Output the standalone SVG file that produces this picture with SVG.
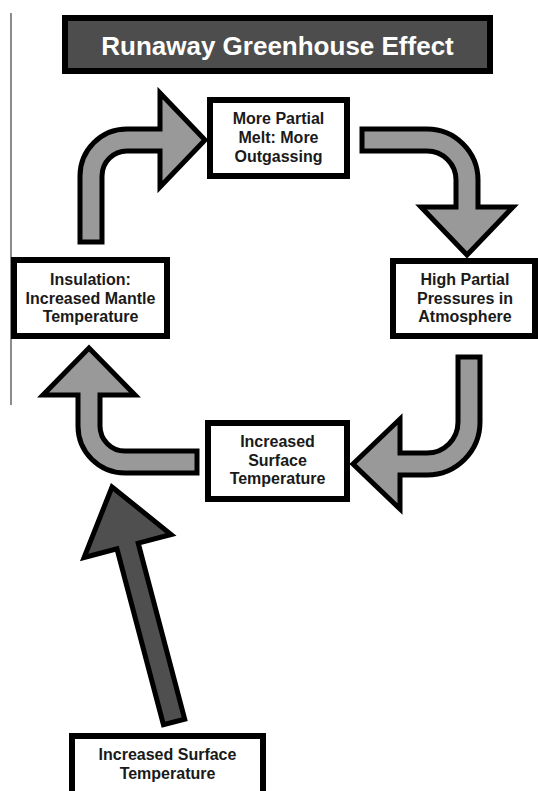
<svg xmlns="http://www.w3.org/2000/svg" width="538" height="791" viewBox="0 0 538 791">
  <style>
    .box { fill: #ffffff; stroke: #000000; stroke-width: 6; }
    .lbl { font-family: "Liberation Sans", Arial, sans-serif; font-weight: bold; font-size: 16px; fill: #1a1a1a; text-anchor: middle; }
    .title { font-family: "Liberation Sans", Arial, sans-serif; font-weight: bold; font-size: 26px; fill: #ffffff; text-anchor: middle; }
    .arr { fill: #999999; stroke: #000000; stroke-width: 5; stroke-linejoin: miter; }
    .arrd { fill: #4f4f4f; stroke: #000000; stroke-width: 5; stroke-linejoin: miter; }
  </style>
  <rect width="538" height="791" fill="#ffffff"/>
  <line x1="11" y1="13" x2="11" y2="405" stroke="#666666" stroke-width="1.5"/>

  <g id="title">
    <rect x="65" y="18" width="425" height="53" fill="#4d4d4d" stroke="#000000" stroke-width="6"/>
    <text class="title" x="277.5" y="55">Runaway Greenhouse Effect</text>
  </g>

  <g id="connectors">
    <path class="arr" d="M80,242 L80,176 A47,47 0 0 1 127,129 L160,129 L160,93 L205,140 L160,187 L160,151 L127,151 A25,25 0 0 0 102,176 L102,242 Z"/>
    <path class="arr" d="M362,129 L427,129 A51,51 0 0 1 478,180 L478,207 L513,207 L467,255 L421,207 L456,207 L456,180 A29,29 0 0 0 427,151 L362,151 Z"/>
    <path class="arr" d="M458,357 L458,422 A31,31 0 0 1 427,453 L400,453 L400,419 L353,464 L400,509 L400,475 L427,475 A53,53 0 0 0 480,422 L480,357 Z"/>
    <path class="arr" d="M197,451 L125,451 A25,25 0 0 1 100,426 L100,395 L135,395 L89,348 L43,395 L78,395 L78,426 A47,47 0 0 0 125,473 L197,473 Z"/>
    <path class="arrd" transform="translate(112,487) rotate(-14.8)" d="M0,0 L45,61 L11,61 L11,243 L-11,243 L-11,61 L-45,61 Z"/>
  </g>

  <g id="node-melt">
    <rect class="box" x="210" y="100" width="137" height="76"/>
    <text class="lbl" x="278.5" y="124">More Partial</text>
    <text class="lbl" x="278.5" y="143">Melt: More</text>
    <text class="lbl" x="278.5" y="162">Outgassing</text>
  </g>

  <g id="node-insulation">
    <rect class="box" x="14" y="260" width="153" height="76"/>
    <text class="lbl" x="90.5" y="285">Insulation:</text>
    <text class="lbl" x="90.5" y="304">Increased Mantle</text>
    <text class="lbl" x="90.5" y="322">Temperature</text>
  </g>

  <g id="node-pressure">
    <rect class="box" x="393" y="261" width="142" height="75"/>
    <text class="lbl" x="465" y="285">High Partial</text>
    <text class="lbl" x="465" y="304">Pressures in</text>
    <text class="lbl" x="465" y="322">Atmosphere</text>
  </g>

  <g id="node-surface">
    <rect class="box" x="208" y="423" width="139" height="76"/>
    <text class="lbl" x="277.5" y="447">Increased</text>
    <text class="lbl" x="277.5" y="466">Surface</text>
    <text class="lbl" x="277.5" y="484">Temperature</text>
  </g>

  <g id="node-surface-input">
    <rect class="box" x="72" y="736" width="191" height="70"/>
    <text class="lbl" x="167.5" y="760">Increased Surface</text>
    <text class="lbl" x="167.5" y="779">Temperature</text>
  </g>
</svg>
